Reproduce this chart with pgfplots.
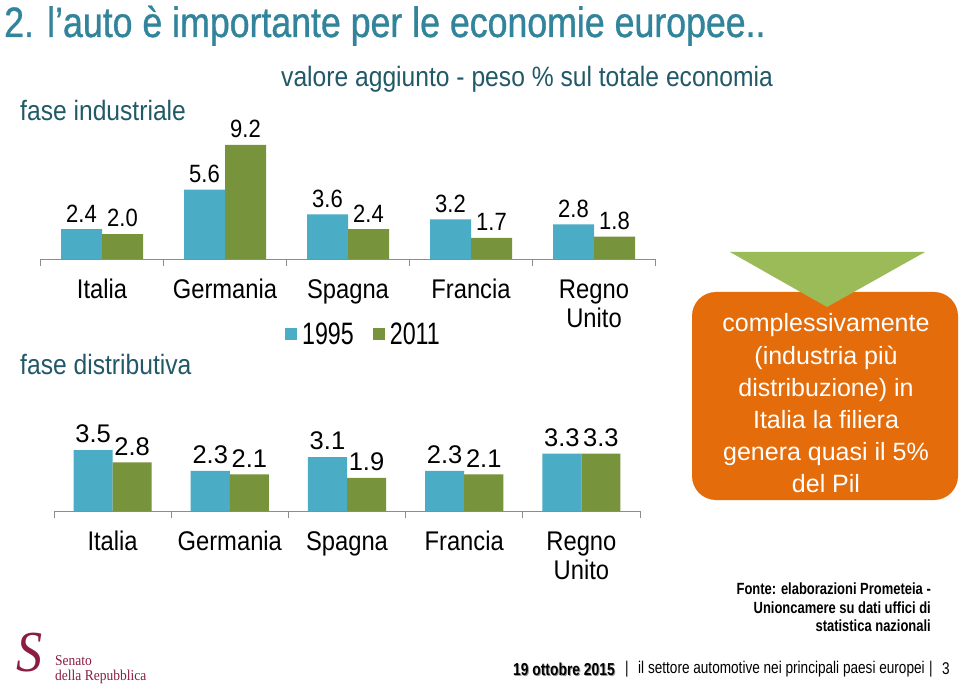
\documentclass[border=0pt]{standalone}
\usepackage{fontspec}
\setmainfont{Liberation Sans}
\newfontfamily\cond[FakeStretch=0.88]{Liberation Sans}
\newfontfamily\tcond[FakeStretch=0.84,FakeBold=0.8]{Liberation Sans}
\newfontfamily\xcond[FakeStretch=0.75]{Liberation Sans}
\newfontfamily\scond[FakeStretch=0.8]{Liberation Sans}
\newfontfamily\serifS[FakeStretch=0.9]{Liberation Serif}
\usepackage{pgfplots}
\pgfplotsset{compat=1.18}
\newcommand\fs[2]{\fontsize{#1}{#2}\selectfont}
\definecolor{cblue}{HTML}{4BACC6}
\definecolor{cgreen}{HTML}{77933C}
\definecolor{ctitle}{HTML}{31849B}
\definecolor{cdark}{HTML}{215968}
\definecolor{corange}{HTML}{E46C0A}
\definecolor{ctri}{HTML}{9BBB59}
\definecolor{csen}{HTML}{8C1D40}
\definecolor{caxis}{HTML}{8C8C8C}
\pgfplotsset{mybars/.style={
  ybar=0pt, scale only axis, xmin=-0.5, xmax=4.5, ymin=0,
  axis x line=bottom, axis y line=none, ytick=\empty,
  axis line style={-,draw=caxis,line width=0.8pt},
  xtick={0,...,4}, xticklabels={\strut Italia,\strut Germania,\strut Spagna,\strut Francia,{\strut Regno\\Unito}},
  major tick length=0pt, minor xtick={-0.5,0.5,...,4.5}, minor tick length=7pt,
  tick align=outside, minor tick style={draw=caxis,line width=0.8pt},
  x tick label style={font=\cond\fs{27}{29}, align=center, yshift=-16pt, text=black},
  /pgf/number format/assume math mode=true,
  nodes near coords={\pgfmathprintnumber[fixed,fixed zerofill,precision=1,assume math mode=true]{\pgfplotspointmeta}},
  every node near coord/.append style={text=black, yshift=3.5pt},
  clip=false,
}}
\begin{document}
\begin{tikzpicture}[x=1pt,y=1pt]
\fill[white] (0,0) rectangle (960,686);
\useasboundingbox (0,0) rectangle (960,686);
% title
\node[anchor=base west, inner sep=0, text=ctitle, font=\tcond\fs{42.5}{42}] at (4,649) {2. l’auto è importante per le economie europee..};
\node[anchor=base west, inner sep=0, text=cdark, font=\cond\fs{28}{28}] at (281,599) {valore aggiunto - peso \% sul totale economia};
\node[anchor=base west, inner sep=0, text=cdark, font=\cond\fs{28}{28}] at (20,565) {fase industriale};
\node[anchor=base west, inner sep=0, text=cdark, font=\cond\fs{28}{28}] at (20,312) {fase distributiva};
% top chart
\begin{axis}[mybars, at={(40.5pt,427pt)}, anchor=south west, width=615pt, height=124pt,
  ymax=10, bar width=41pt,
  every node near coord/.append style={font=\cond\fs{25}{25}},
  legend style={at={(0.5276,-0.605)}, anchor=center, draw=none, fill=none,
    legend columns=2, font=\xcond\fs{31}{31},
    nodes={inner xsep=5pt},
    /tikz/every even column/.append style={column sep=14pt}},
  legend image code/.code={\fill[#1] (0pt,-6pt) rectangle (12pt,6pt);}]
\addplot[fill=cblue, draw=none] coordinates {(0,2.4) (1,5.6) (2,3.6) (3,3.2) (4,2.8)};
\addplot[fill=cgreen, draw=none] coordinates {(0,2.0) (1,9.2) (2,2.4) (3,1.7) (4,1.8)};
\legend{1995,2011}
\end{axis}
% bottom chart
\begin{axis}[mybars, at={(54pt,175pt)}, anchor=south west, width=586pt, height=69.6pt,
  ymax=4, bar width=39.07pt,
  every node near coord/.append style={font=\fs{25.5}{25.5}}]
\addplot[fill=cblue, draw=none] coordinates {(0,3.5) (1,2.3) (2,3.1) (3,2.3) (4,3.3)};
\addplot[fill=cgreen, draw=none] coordinates {(0,2.8) (1,2.1) (2,1.9) (3,2.1) (4,3.3)};
\end{axis}
% orange box
\fill[corange, rounded corners=24pt] (692,186) rectangle (958,394);
\fill[ctri] (730,434) -- (925,434) -- (827,379) -- cycle;
\node[align=center, text=white, font=\fs{25}{32.2}] at (826,282.5) {complessivamente\\(industria più\\distribuzione) in\\Italia la filiera\\genera quasi il 5\%\\del Pil};
% source
\node[anchor=north east, align=right, inner sep=0, font=\scond\bfseries\fs{16.2}{18.5}] at (931,103) {Fonte: elaborazioni Prometeia -\\Unioncamere su dati uffici di\\statistica nazionali};
% footer
\node[anchor=west, inner sep=0, text=black!40, font=\scond\bfseries\fs{17.3}{17}] at (514,16) {19 ottobre 2015};
\node[anchor=west, inner sep=0, font=\scond\bfseries\fs{17.3}{17}] at (513,17) {19 ottobre 2015};
\node[anchor=west, inner sep=0, font=\scond\fs{17}{17}] at (625,17) {|};
\node[anchor=west, inner sep=0, font=\scond\fs{17}{17}] at (638,17) {il settore automotive nei principali paesi europei};
\node[anchor=west, inner sep=0, font=\scond\fs{17}{17}] at (929,17) {|};
\node[anchor=west, inner sep=0, font=\scond\fs{17}{17}] at (942,17) {3};
% logo
\node[text=csen, font=\serifS\itshape\fs{58}{58}, inner sep=0] at (30,33) {S};
\node[anchor=base west, inner sep=0, text=csen, font=\serifS\fs{15}{15}] at (55,21) {Senato};
\node[anchor=base west, inner sep=0, text=csen, font=\serifS\fs{15}{15}] at (55,6) {della Repubblica};
\end{tikzpicture}
\end{document}
